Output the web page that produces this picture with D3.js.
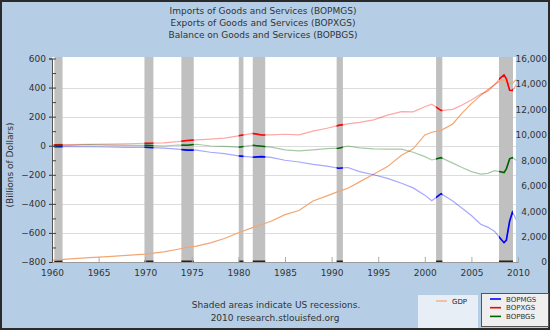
<!DOCTYPE html>
<html>
<head>
<meta charset="utf-8">
<script src="https://cdn.jsdelivr.net/npm/d3@7"></script>
<style>
  body { margin: 0; }
  text { font-family: "DejaVu Sans", sans-serif; }
</style>
</head>
<body>
<script>
const width = 550;
const height = 330;

// data (quarterly levels, billions of dollars)
const dates = [1960, 1962, 1964, 1966, 1968, 1970, 1972, 1973.5, 1974.5, 1975.5, 1977, 1978.5, 1980, 1981.5, 1982.5, 1983.5,
  1985, 1986.5, 1988, 1989.5, 1990.75, 1991.75, 1993, 1994.5, 1996, 1997.5, 1998.75, 2000, 2000.75, 2001.75, 2003,
  2004, 2005, 2006, 2006.75, 2007.5, 2008, 2008.5, 2008.75, 2009.1, 2009.4, 2009.6, 2009.9];
const exportsVals = [7, 8, 10, 11, 13, 17, 19, 28, 36, 40, 45, 52, 68, 85, 74, 74,
  79, 75, 100, 120, 140, 150, 160, 178, 210, 235, 233, 268, 286, 242, 250,
  280, 315, 355, 375, 420, 460, 487, 460, 382, 380, 398, 430];
const importsVals = [-6, -7, -7, -9, -11, -11, -17, -24, -30, -30, -45, -55, -70, -79, -75, -80,
  -100, -112, -128, -140, -155, -150, -178, -200, -225, -258, -290, -340, -378, -330, -380,
  -430, -480, -540, -560, -590, -630, -667, -650, -520, -458, -480, -523];
const balanceVals = [0, 3, 8, 4, 2, 2, -2, 5, 3, 10, -2, -5, -10, 3, -4, -10,
  -28, -36, -28, -20, -17, -2, -15, -22, -24, -24, -45, -75, -98, -82, -120,
  -150, -178, -195, -190, -172, -178, -185, -160, -90, -82, -90, -105];
const gdpVals = [150, 250, 340, 430, 520, 620, 800, 1000, 1150, 1250, 1500, 1850, 2300, 2700, 2950, 3200,
  3720, 4050, 4800, 5200, 5550, 5800, 6300, 6900, 7500, 8400, 8900, 9990, 10200, 10350, 10850,
  11700, 12450, 13100, 13550, 13950, 14200, 14320, 14200, 14050, 14050, 14200, 14400];

const recessions = [[1960.25, 1961.13], [1969.92, 1970.88], [1973.88, 1975.21], [1980.04, 1980.54],
  [1981.54, 1982.88], [1990.54, 1991.21], [2001.21, 2001.88], [2007.96, 2009.46]];

const titles = ["Imports of Goods and Services (BOPMGS)", "Exports of Goods and Services (BOPXGS)", "Balance on Goods and Services (BOPBGS)"];
const leftTicks = [-800, -600, -400, -200, 0, 200, 400, 600];
const rightTicks = [0, 2000, 4000, 6000, 8000, 10000, 12000, 14000, 16000];
const yearTicks = [1960, 1965, 1970, 1975, 1980, 1985, 1990, 1995, 2000, 2005, 2010];
const seriesNames = ["BOPMGS", "BOPXGS", "BOPBGS"];
const seriesColors = ["#0000ff", "#ff0000", "#006400"];

const svg = d3.select('body').append('svg').attr('width', width).attr('height', height);

svg.append("rect")
  .attr("x", 1).attr("y", 1).attr("width", width - 2).attr("height", height - 2)
  .style("fill", "#b5cee6").style("stroke", "#2a2a2a").style("stroke-width", 2);

const x = d3.scaleLinear().domain([1960, 2010]).range([52, 518]);
const yL = d3.scaleLinear().domain([-800, 600]).range([262, 58.5]);
const yR = d3.scaleLinear().domain([0, 16000]).range([262, 58.5]);
const plotL = 52, plotR = 516, plotT = 57, plotB = 262;

svg.append("rect")
  .attr("x", plotL).attr("y", plotT).attr("width", plotR - plotL).attr("height", plotB - plotT)
  .style("fill", "white");

const defs = svg.append("defs");
defs.append("clipPath").attr("id", "plotclip")
  .append("rect").attr("x", plotL).attr("y", plotT).attr("width", plotR - plotL).attr("height", plotB - plotT);
defs.append("clipPath").attr("id", "recclip")
  .selectAll("rect").data(recessions).enter().append("rect")
  .attr("x", d => x(d[0])).attr("width", d => x(d[1]) - x(d[0]))
  .attr("y", plotT).attr("height", plotB - plotT);

const plot = svg.append("g").attr("clip-path", "url(#plotclip)");

// gridlines
plot.selectAll("line.grid")
  .data(leftTicks.filter(v => v > -800 && v < 600))
  .enter().append("line")
  .attr("class", "grid")
  .attr("x1", plotL).attr("x2", plotR)
  .attr("y1", d => Math.round(yL(d)) + 0.5).attr("y2", d => Math.round(yL(d)) + 0.5)
  .style("stroke", "#dcdcdc").style("stroke-width", 1);

// recession bands
plot.selectAll("rect.rec")
  .data(recessions)
  .enter().append("rect")
  .attr("class", "rec")
  .attr("x", d => x(d[0])).attr("width", d => x(d[1]) - x(d[0]))
  .attr("y", plotT).attr("height", plotB - plotT)
  .style("fill", "#c0c0c0");

plot.selectAll("line.recbase")
  .data(recessions)
  .enter().append("line")
  .attr("x1", d => x(d[0])).attr("x2", d => x(d[1]))
  .attr("y1", plotB - 0.75).attr("y2", plotB - 0.75)
  .style("stroke", "#222").style("stroke-width", 1.5);

// x ticks pointing up into plot
const xAxis = svg.append("g")
  .attr("transform", `translate(0,${plotB})`)
  .call(d3.axisBottom(x).tickValues(yearTicks).tickSize(-5).tickPadding(8).tickFormat(d3.format("d")));
xAxis.select(".domain").style("stroke", "#9a9a9a");
xAxis.selectAll(".tick line").style("stroke", "#aaa");
xAxis.selectAll("text").style("font-size", "9px").style("fill", "#333");

// lines
const rows = dates.map((t, i) => ({t: t, imp: importsVals[i], exp: exportsVals[i], bal: balanceVals[i], gdp: gdpVals[i]}));
const keys = ["imp", "exp", "bal"];

plot.append("path")
  .datum(rows)
  .attr("d", d3.line().x(d => x(d.t)).y(d => yR(d.gdp)))
  .style("fill", "none").style("stroke", "#f2a672").style("stroke-width", 1.2);

keys.forEach((k, i) => {
  const line = d3.line().x(d => x(d.t)).y(d => yL(d[k]));
  plot.append("path")
    .datum(rows)
    .attr("d", line)
    .style("fill", "none").style("stroke", seriesColors[i])
    .style("stroke-width", 1.2).style("opacity", 0.35);
  plot.append("g").attr("clip-path", "url(#recclip)")
    .append("path")
    .datum(rows)
    .attr("d", line)
    .style("fill", "none").style("stroke", seriesColors[i])
    .style("stroke-width", 1.6);
});

// left axis
const leftAxis = svg.append("g")
  .attr("transform", `translate(${plotL},0)`)
  .call(d3.axisLeft(yL).tickValues(leftTicks).tickSize(3).tickPadding(3));
leftAxis.select(".domain").style("stroke", "#555");
leftAxis.selectAll(".tick line").style("stroke", "#333");
leftAxis.selectAll("text").style("font-size", "9px").style("fill", "#333");

// minor ticks inside
const minor = svg.append("g")
  .attr("transform", `translate(${plotL},0)`)
  .call(d3.axisRight(yL).tickValues(d3.range(-700, 700, 100)).tickSize(4).tickFormat(""));
minor.select(".domain").remove();
minor.selectAll(".tick line").style("stroke", "#444");

// right axis
const rightAxis = svg.append("g")
  .attr("transform", `translate(${plotR},0)`)
  .call(d3.axisRight(yR).tickValues(rightTicks).tickSize(0).tickFormat(d3.format(",")));
rightAxis.select(".domain").remove();
rightAxis.selectAll("text")
  .attr("x", 31).attr("text-anchor", "end")
  .style("font-size", "9px").style("fill", "#333");

// titles
svg.selectAll("text.title")
  .data(titles)
  .enter().append("text")
  .attr("class", "title")
  .attr("x", 263).attr("y", (d, i) => 13.5 + i * 12)
  .attr("text-anchor", "middle")
  .style("font-size", "9px").style("fill", "#333")
  .text(d => d);

svg.append("text")
  .attr("transform", "translate(13,165) rotate(-90)")
  .attr("text-anchor", "middle")
  .style("font-size", "9px").style("fill", "#333")
  .text("(Billions of Dollars)");

svg.append("text")
  .attr("x", 276).attr("y", 308)
  .attr("text-anchor", "middle")
  .style("font-size", "9px").style("fill", "#333")
  .text("Shaded areas indicate US recessions.");
svg.append("text")
  .attr("x", 275).attr("y", 321)
  .attr("text-anchor", "middle")
  .style("font-size", "9px").style("fill", "#333")
  .text("2010 research.stlouisfed.org");

// legends
const gdpLeg = svg.append("g");
gdpLeg.append("rect").attr("x", 418).attr("y", 295).attr("width", 60).attr("height", 33)
  .style("fill", "#e8eef5");
gdpLeg.append("line").attr("x1", 436).attr("x2", 447).attr("y1", 301).attr("y2", 301)
  .style("stroke", "#f2a672").style("stroke-width", 1.2);
gdpLeg.append("text").attr("x", 452).attr("y", 303.5)
  .style("font-size", "7px").style("fill", "#222").text("GDP");

const leg = svg.append("g");
leg.append("rect").attr("x", 481.5).attr("y", 293.5).attr("width", 67).attr("height", 33)
  .style("fill", "#efefef").style("stroke", "#555").style("stroke-width", 1);
const legRows = leg.selectAll("g.row")
  .data(seriesNames)
  .enter().append("g")
  .attr("transform", (d, i) => `translate(0,${299 + i * 8.7})`);
legRows.append("line").attr("x1", 490).attr("x2", 501)
  .style("stroke", (d, i) => seriesColors[i]).style("stroke-width", 1.6);
legRows.append("text").attr("x", 506).attr("y", 2.5)
  .style("font-size", "7px").style("fill", "#333").text(d => d);
</script>
</body>
</html>
